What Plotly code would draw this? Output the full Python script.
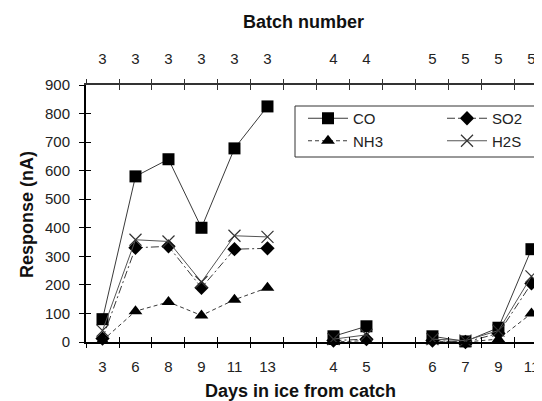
import plotly.graph_objects as go

# ---- data ----
batch_ids = [3, 4, 5]
batch_days = [[3, 6, 8, 9, 11, 13], [4, 5], [6, 7, 9, 11]]

co = [[80, 580, 640, 400, 678, 825], [20, 55], [20, 2, 50, 325]]
so2 = [[12, 330, 335, 190, 325, 328], [5, 10], [5, 0, 30, 205]]
nh3 = [[5, 108, 140, 93, 148, 190], [0, 5], [3, 0, 10, 100]]
h2s = [[40, 358, 352, 210, 372, 368], [10, 25], [10, 5, 40, 230]]

y_ticks = list(range(0, 1000, 100))

# ---- slot positions (one empty slot between batches) ----
slots = []
pos = 0
for days in batch_days:
    slots.append(list(range(pos, pos + len(days))))
    pos += len(days) + 1
centers = [s for grp in slots for s in grp]
day_labels = [str(d) for days in batch_days for d in days]
batch_labels = [str(b) for b, days in zip(batch_ids, batch_days) for _ in days]
n_slots = pos - 1
boundaries = [i - 0.5 for i in range(n_slots)]


def series(vals):
    xs, ys = [], []
    for grp, v in zip(slots, vals):
        xs += grp + [None]
        ys += v + [None]
    return xs, ys


# layout geometry (figure pixels)
W, H = 534, 393
ML, MT, MB = 78, 77, 59
PW, PH = W - ML, H - MT - MB


def sx(px):  # window x -> paper x
    return (px - 8 - ML) / PW


def sy(py):  # window y -> paper y
    return (H - MB - (py - 8)) / PH


FONT = "Liberation Sans, Arial, sans-serif"
fig = go.Figure()

specs = [
    ("CO", co, "legend", dict(symbol="square", size=12, color="black"),
     dict(color="#3a3a3a", width=1, dash="solid")),
    ("SO2", so2, "legend2", dict(symbol="diamond", size=11, color="black"),
     dict(color="#3a3a3a", width=1, dash="8px,3px,2px,3px")),
    ("NH3", nh3, "legend", dict(symbol="triangle-up", size=12, color="black"),
     dict(color="#3a3a3a", width=1, dash="4px,3px")),
    ("H2S", h2s, "legend2", dict(symbol="x-thin", size=12, color="#333", line=dict(width=1.2, color="#333")),
     dict(color="#555", width=1, dash="solid")),
]
for name, vals, lg, mk, ln in specs:
    xs, ys = series(vals)
    fig.add_trace(go.Scatter(x=xs, y=ys, name=name, mode="lines+markers", legend=lg,
                             marker=mk, line=ln, connectgaps=False, cliponaxis=False))

# empty helper traces so overlay axes are rendered
for ax in ["x2", "x3", "x4", "x5", "x6"]:
    fig.add_trace(go.Scatter(x=[], y=[], xaxis=ax, yaxis="y", showlegend=False, hoverinfo="skip"))
fig.add_trace(go.Scatter(x=[], y=[], xaxis="x", yaxis="y2", showlegend=False, hoverinfo="skip"))

xr = [-0.5, 13.32]
tickfont = dict(family=FONT, size=15, color="#222")
legfont = dict(family=FONT, size=15, color="#222")


def tick_axis(side, ticks, color):
    return dict(range=xr, overlaying="x", anchor="y", side=side, tickvals=boundaries,
                ticks=ticks, ticklen=5, tickcolor=color, tickwidth=1,
                showticklabels=False, showline=False, showgrid=False, zeroline=False)


fig.update_layout(
    width=W, height=H,
    margin=dict(l=ML, r=0, t=MT, b=MB, pad=0),
    plot_bgcolor="white", paper_bgcolor="white",
    font=dict(family=FONT, size=15, color="#222"),
    showlegend=True,
    legend=dict(x=sx(303), y=sy(102), xanchor="left", yanchor="top", borderwidth=0,
                bgcolor="rgba(0,0,0,0)", itemwidth=40, font=legfont, tracegroupgap=0),
    legend2=dict(x=sx(442), y=sy(102), xanchor="left", yanchor="top", borderwidth=0,
                 bgcolor="rgba(0,0,0,0)", itemwidth=40, font=legfont, tracegroupgap=0),
    xaxis=dict(range=xr, tickvals=centers, ticktext=day_labels, ticks="",
               showline=True, linecolor="black", linewidth=2, showgrid=False,
               zeroline=False, tickfont=tickfont, ticklabelstandoff=10),
    xaxis2=dict(range=xr, overlaying="x", anchor="y", side="top", tickvals=centers,
                ticktext=batch_labels, ticks="", showline=True, linecolor="#333",
                linewidth=1.5, showgrid=False, zeroline=False, tickfont=tickfont,
                ticklabelstandoff=13),
    xaxis3=tick_axis("bottom", "outside", "black"),
    xaxis4=tick_axis("bottom", "inside", "black"),
    xaxis5=tick_axis("top", "outside", "#333"),
    xaxis6=tick_axis("top", "inside", "#333"),
    yaxis=dict(range=[0, 900], tickvals=y_ticks, ticks="outside", ticklen=5,
               tickcolor="black", showline=True, linecolor="black", linewidth=2,
               showgrid=False, zeroline=False, tickfont=tickfont, ticklabelstandoff=6),
    yaxis2=dict(range=[0, 900], overlaying="y", anchor="x", side="left", tickvals=y_ticks,
                ticks="inside", ticklen=5, tickcolor="black", showticklabels=False,
                showline=False, showgrid=False, zeroline=False),
    shapes=[dict(type="rect", xref="paper", yref="paper", x0=sx(295), x1=1.05,
                 y0=sy(157), y1=sy(106), line=dict(color="#333", width=1),
                 fillcolor="rgba(255,255,255,1)", layer="below")],
    annotations=[
        dict(text="<b>Batch number</b>", xref="paper", yref="paper", x=sx(303),
             y=sy(22), xanchor="center", yanchor="middle", showarrow=False,
             font=dict(family=FONT, size=18, color="#111")),
        dict(text="<b>Days in ice from catch</b>", xref="paper", yref="paper",
             x=sx(300), y=sy(391), xanchor="center", yanchor="middle",
             showarrow=False, font=dict(family=FONT, size=18, color="#111")),
        dict(text="<b>Response (nA)</b>", xref="paper", yref="paper",
             x=sx(27), y=sy(214), xanchor="center", yanchor="middle", textangle=-90,
             showarrow=False, font=dict(family=FONT, size=18, color="#111")),
    ],
)

fig.write_html("out.html")
